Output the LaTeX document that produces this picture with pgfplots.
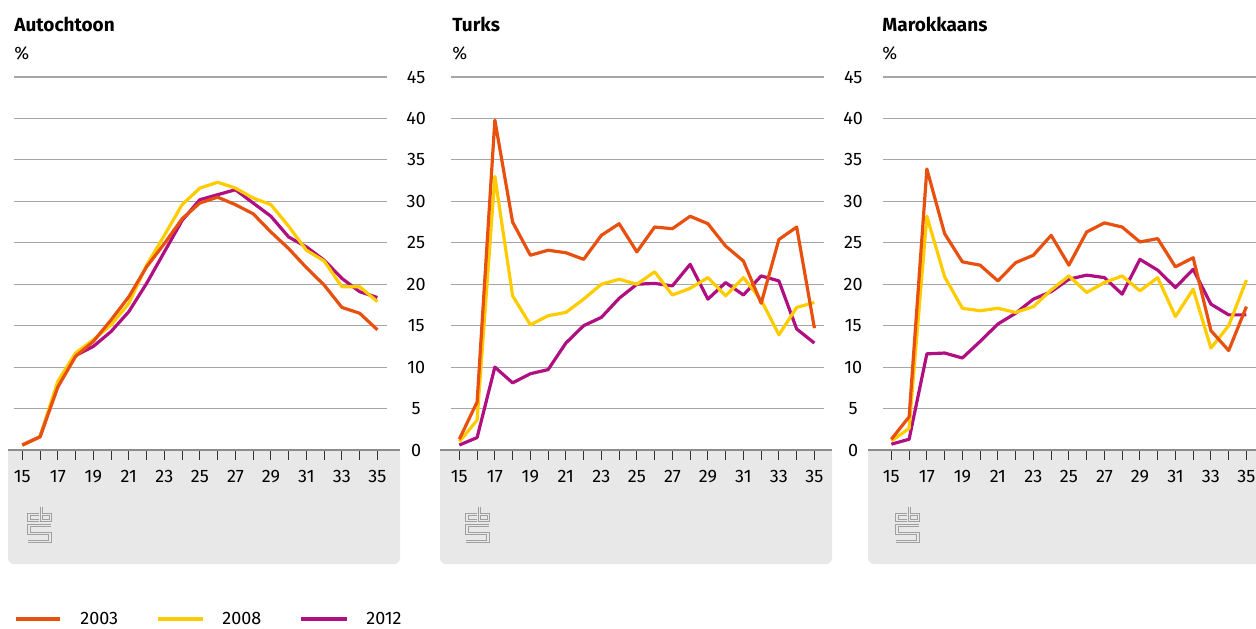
\documentclass[border=0pt]{standalone}
\usepackage{fontspec}
\setmainfont{Fira Sans}
\usepackage{pgfplots}
\usepackage{pgfplotstable}
\pgfplotsset{compat=1.18}
\definecolor{c03}{HTML}{E8500F}
\definecolor{c08}{HTML}{FFCC00}
\definecolor{c12}{HTML}{AF0F80}
\definecolor{boxgray}{HTML}{E8E8E8}
\definecolor{axgray}{HTML}{8C8C8C}
\definecolor{gridgray}{HTML}{A5A5A5}
\definecolor{logogray}{HTML}{A0A0A0}

\pgfplotstableread{
age y03 y08 y12
15 0.6 0.6 0.6
16 1.6 1.6 1.6
17 7.6 8.3 8.0
18 11.3 11.7 11.4
19 13.1 13.3 12.5
20 15.7 15.1 14.3
21 18.5 17.7 16.7
22 22.1 22.3 20.1
23 24.9 25.9 23.9
24 27.9 29.6 27.7
25 29.8 31.6 30.2
26 30.5 32.3 30.8
27 29.6 31.6 31.4
28 28.5 30.4 29.8
29 26.3 29.6 28.2
30 24.3 27.0 25.7
31 22.0 24.1 24.5
32 19.9 22.8 22.9
33 17.2 19.7 20.7
34 16.5 19.7 19.1
35 14.5 17.9 18.4
}\autochtoon

\pgfplotstableread{
age y03 y08 y12
15 1.3 1.0 0.6
16 5.8 3.6 1.5
17 39.8 33.0 10.0
18 27.5 18.6 8.1
19 23.5 15.1 9.2
20 24.1 16.2 9.7
21 23.8 16.6 12.9
22 23.0 18.2 15.0
23 25.9 20.0 16.0
24 27.3 20.6 18.3
25 23.9 20.0 20.0
26 26.9 21.5 20.1
27 26.7 18.7 19.8
28 28.2 19.5 22.4
29 27.3 20.8 18.2
30 24.6 18.6 20.2
31 22.8 20.8 18.7
32 17.7 18.1 21.0
33 25.4 13.9 20.4
34 26.9 17.2 14.6
35 14.7 17.8 12.9
}\turks

\pgfplotstableread{
age y03 y08 y12
15 1.3 1.1 0.7
16 4.0 2.6 1.3
17 33.9 28.2 11.6
18 26.1 20.9 11.7
19 22.7 17.1 11.1
20 22.3 16.8 13.1
21 20.4 17.1 15.2
22 22.6 16.6 16.5
23 23.5 17.3 18.2
24 25.9 19.3 19.1
25 22.3 21.0 20.6
26 26.3 19.0 21.1
27 27.4 20.2 20.8
28 26.9 21.0 18.8
29 25.1 19.2 23.0
30 25.5 20.8 21.7
31 22.1 16.1 19.6
32 23.2 19.4 21.8
33 14.4 12.3 17.6
34 12.0 15.0 16.3
35 17.3 20.5 16.3
}\marokkaans

\pgfplotsset{cbs/.style={
  scale only axis, width=186.5pt, height=186.5pt,
  xmin=14.53, xmax=35.54, ymin=0, ymax=45,
  axis line style={draw=none},
  xtick={15,...,35},
  xticklabels={15,,17,,19,,21,,23,,25,,27,,29,,31,,33,,35},
  ytick={0,5,...,45},
  ymajorgrids, grid style={gridgray, line width=0.6pt},
  tick align=outside, xtick pos=bottom, ytick pos=right, yticklabel pos=right,
  major tick length=5pt,
  xtick style={black!80, line width=0.5pt},
  ytick style={draw=none},
  tick label style={font=\fontsize{9}{10}\selectfont},
  xticklabel style={anchor=base, yshift=-11pt},
  yticklabel style={anchor=center, xshift=9.6pt},
  /pgf/number format/assume math mode=true,
}}
\pgfplotsset{p03/.style={c03, line width=1.6pt, line join=round, mark=none},
  p08/.style={c08, line width=1.6pt, line join=round, mark=none},
  p12/.style={c12, line width=1.6pt, line join=round, mark=none}}

\begin{document}
\begin{tikzpicture}
\useasboundingbox (0,0) rectangle (628pt,314pt);
\clip (0,0) rectangle (628pt,314pt);
\begin{scope}[x=0.5pt,y=-0.5pt,yshift=314pt]
  \foreach \l/\r in {8/400, 440/832, 868/1300}{
    \fill[boxgray, rounded corners=3pt] (\l,450) rectangle (\r,564);
    \fill[boxgray] (\l,450) rectangle (\r,480);
  }
  \node[anchor=base west, inner sep=0, font=\bfseries\fontsize{9.5}{11}\selectfont] at (14,31.7) {Autochtoon};
  \node[anchor=base west, inner sep=0, font=\bfseries\fontsize{9.5}{11}\selectfont] at (452,31.7) {Turks};
  \node[anchor=base west, inner sep=0, font=\bfseries\fontsize{9.5}{11}\selectfont] at (882,31.7) {Marokkaans};
  \foreach \x in {14,452,882}{
    \node[anchor=base west, inner sep=0, font=\fontsize{9}{10}\selectfont] at (\x,60) {\%};
  }
\end{scope}

\begin{axis}[cbs, at={(7pt,89pt)}, anchor=south west]
  \addplot[p12] table[x=age, y=y12] {\autochtoon};
  \addplot[p08] table[x=age, y=y08] {\autochtoon};
  \addplot[p03] table[x=age, y=y03] {\autochtoon};
\end{axis}
\begin{axis}[cbs, at={(225.5pt,89pt)}, anchor=south west]
  \addplot[p12] table[x=age, y=y12] {\turks};
  \addplot[p08] table[x=age, y=y08] {\turks};
  \addplot[p03] table[x=age, y=y03] {\turks};
\end{axis}
\begin{axis}[cbs, at={(441.5pt,89pt)}, anchor=south west, yticklabels={}]
  \addplot[p12] table[x=age, y=y12] {\marokkaans};
  \addplot[p08] table[x=age, y=y08] {\marokkaans};
  \addplot[p03] table[x=age, y=y03] {\marokkaans};
\end{axis}

\begin{scope}[x=0.5pt,y=-0.5pt,yshift=314pt]
  \foreach \l/\r/\o in {8/400/0, 440/832/438, 868/1300/868}{
    \draw[axgray, line width=1pt] (\l,450) -- (\r,450);
    \begin{scope}[xshift=\o*0.5pt]
      \draw[logogray, line width=0.4pt, double=boxgray, double distance=0.8pt]
        (38.5,514.5) -- (29,514.5) -- (29,520.5) -- (38.5,520.5);
      \draw[logogray, line width=0.4pt, double=boxgray, double distance=0.8pt]
        (41.5,506.5) -- (41.5,520.5) -- (50.5,520.5) -- (50.5,514.5) -- (41.5,514.5);
      \draw[logogray, line width=0.4pt, double=boxgray, double distance=0.8pt]
        (51,525.5) -- (29,525.5) -- (29,533.5) -- (50,533.5) -- (50,541.5) -- (28,541.5);
    \end{scope}
  }
  \draw[c03, line width=2pt] (16,619) -- (60,619);
  \node[anchor=base west, inner sep=0, font=\fontsize{9}{10}\selectfont] at (80,624.5) {2003};
  \draw[c08, line width=2pt] (158,619) -- (203,619);
  \node[anchor=base west, inner sep=0, font=\fontsize{9}{10}\selectfont] at (222,624.5) {2008};
  \draw[c12, line width=2pt] (301,619) -- (347,619);
  \node[anchor=base west, inner sep=0, font=\fontsize{9}{10}\selectfont] at (366,624.5) {2012};
\end{scope}
\end{tikzpicture}
\end{document}
